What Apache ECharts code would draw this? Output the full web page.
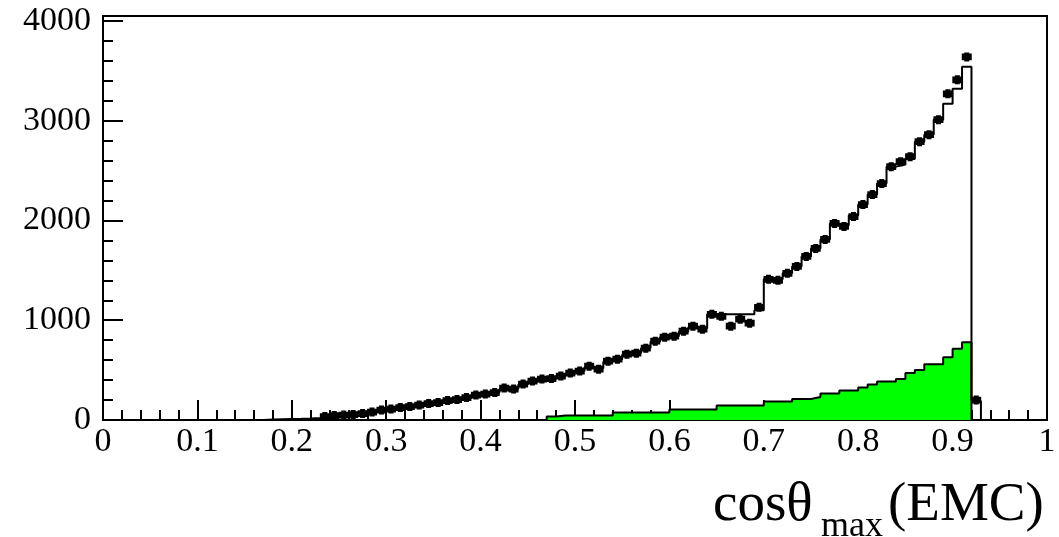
<!DOCTYPE html>
<html>
<head>
<meta charset="utf-8">
<script src="https://cdn.jsdelivr.net/npm/echarts@6/dist/echarts.min.js"></script>
<style>
html,body{margin:0;padding:0;background:#fff;}
#chart{width:1059px;height:537px;}
</style>
</head>
<body>
<div id="chart"></div>
<script>
// bin lower edges (bin width 0.01)
const binLow = [0.17,0.18,0.19,0.20,0.21,0.22,0.23,0.24,0.25,0.26,0.27,0.28,0.29,0.30,0.31,0.32,0.33,0.34,0.35,0.36,0.37,0.38,0.39,0.40,0.41,0.42,0.43,0.44,0.45,0.46,0.47,0.48,0.49,0.50,0.51,0.52,0.53,0.54,0.55,0.56,0.57,0.58,0.59,0.60,0.61,0.62,0.63,0.64,0.65,0.66,0.67,0.68,0.69,0.70,0.71,0.72,0.73,0.74,0.75,0.76,0.77,0.78,0.79,0.80,0.81,0.82,0.83,0.84,0.85,0.86,0.87,0.88,0.89,0.90,0.91,0.92];
const binWidth = 0.01;
// Monte Carlo histogram (black line)
const mcValues = [5,8,10,12,15,20,35,45,50,55,65,90,100,110,120,135,150,160,175,190,205,225,245,260,275,310,315,355,385,405,415,440,465,490,530,520,585,610,655,675,720,785,830,840,885,930,920,1060,1060,1060,1060,1060,1100,1410,1410,1470,1540,1640,1720,1810,1970,1950,2050,2160,2260,2370,2540,2560,2620,2790,2860,3010,3170,3320,3540,190];
// data points
const dataValues = [null,null,null,null,null,null,35,45,50,55,65,80,100,110,125,135,150,165,175,195,205,225,250,260,275,320,310,360,390,410,415,440,470,490,540,510,590,610,660,670,720,790,830,840,890,940,910,1060,1040,940,1010,970,1130,1410,1400,1470,1540,1640,1720,1810,1970,1940,2040,2160,2260,2370,2540,2590,2640,2790,2860,3010,3270,3410,3640,200];
// background component (green filled histogram)
const greenValues = [null,null,null,null,null,null,null,null,null,null,null,null,null,null,null,null,null,null,null,null,null,null,null,null,null,null,null,null,null,null,35,45,45,45,45,45,45,75,75,75,75,75,75,105,105,105,105,105,145,145,145,145,145,185,185,185,210,210,230,265,265,295,295,325,355,385,385,410,470,500,560,560,630,715,780,null];
const xTickLabels = ['0','0.1','0.2','0.3','0.4','0.5','0.6','0.7','0.8','0.9','1'];
const yTickLabels = ['0','1000','2000','3000','4000'];

function stepPoints(vals){
  const pts = [];
  let first = -1, last = -1;
  vals.forEach((v,i)=>{ if(v!==null){ if(first<0) first=i; last=i; } });
  pts.push([binLow[first], 0]);
  for(let i=first;i<=last;i++) pts.push([binLow[i], vals[i]]);
  pts.push([+(binLow[last]+binWidth).toFixed(3), 0]);
  return pts;
}
const dataPts = [];
dataValues.forEach((v,i)=>{ if(v!==null) dataPts.push([+(binLow[i]+binWidth/2).toFixed(3), v]); });

const FONT = 'Liberation Serif';
const chart = echarts.init(document.getElementById('chart'), null, {renderer:'canvas'});
chart.setOption({
  animation:false,
  backgroundColor:'#fff',
  grid:{left:103,right:12,top:16,bottom:117,show:true,borderColor:'#000',borderWidth:2,backgroundColor:'transparent'},
  xAxis:{
    type:'value',min:0,max:1,interval:0.1,
    axisLine:{show:true,lineStyle:{color:'#000',width:2}},
    axisTick:{show:true,inside:true,length:20,lineStyle:{color:'#000',width:2}},
    minorTick:{show:true,splitNumber:5,length:10,lineStyle:{color:'#000',width:2}},
    splitLine:{show:false},
    axisLabel:{color:'#000',fontFamily:FONT,fontSize:34,margin:5,
      formatter:function(v){ return xTickLabels[Math.round(v*10)]; }}
  },
  yAxis:[{
    type:'value',min:0,max:4050,interval:1000,
    axisLine:{show:true,lineStyle:{color:'#000',width:2}},
    axisTick:{show:true,inside:true,length:20,lineStyle:{color:'#000',width:2}},
    splitLine:{show:false},
    axisLabel:{color:'#000',fontFamily:FONT,fontSize:34,margin:12,showMaxLabel:false,
      formatter:function(v){ const k=Math.round(v/1000); return (v%1000===0)? yTickLabels[k] : ''; }}
  },{
    type:'value',min:0,max:4050,interval:200,position:'left',
    axisLine:{show:false},
    axisTick:{show:true,inside:true,length:10,lineStyle:{color:'#000',width:2}},
    splitLine:{show:false},
    axisLabel:{show:false}
  }],
  series:[
    {type:'line',name:'bg',step:'end',data:stepPoints(greenValues),showSymbol:false,
      lineStyle:{color:'#000',width:2},areaStyle:{color:'#00ff00',opacity:1},z:2},
    {type:'line',name:'MC',step:'end',data:stepPoints(mcValues),showSymbol:false,
      lineStyle:{color:'#000',width:2},z:3},
    {type:'scatter',name:'data',data:dataPts,
      symbol:'path://M2,0 L6,0 L6,1 L8,1 L8,7 L6,7 L6,8 L2,8 L2,7 L0,7 L0,1 L2,1 Z',
      symbolSize:[10,9],itemStyle:{color:'#000',opacity:1},z:4}
  ],
  graphic:[
    {type:'text',left:713,top:478,style:{text:'cosθ',font:'55px "Liberation Serif"',fill:'#000'}},
    {type:'text',left:821,top:509,style:{text:'max',font:'36px "Liberation Serif"',fill:'#000'}},
    {type:'text',left:888,top:478,style:{text:'(EMC)',font:'55px "Liberation Serif"',fill:'#000'}}
  ]
});
</script>
</body>
</html>
